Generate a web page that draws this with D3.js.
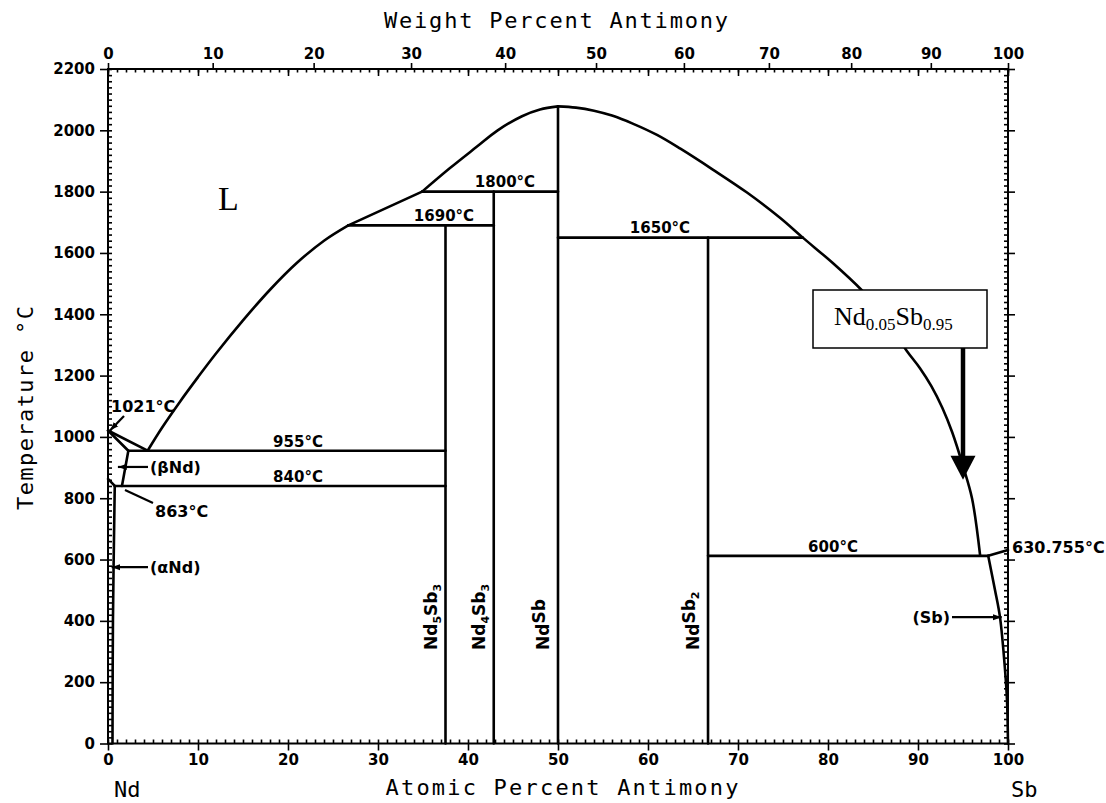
<!DOCTYPE html>
<html><head><meta charset="utf-8">
<script src="https://cdn.jsdelivr.net/npm/d3@7"></script>
<style>body{margin:0;background:#fff}svg{display:block}</style>
</head><body><svg id="c" width="1106" height="803"></svg>
<script>
// ---------------- data ----------------
const atomicTicks = [0,10,20,30,40,50,60,70,80,90,100];
const weightTicks = [0,10,20,30,40,50,60,70,80,90,100];
const tempTicks = [0,200,400,600,800,1000,1200,1400,1600,1800,2000,2200];

const liquidusNdSide = [[0,1021],[4.4,955]];
const liquidusLeft = [[4.4,955],[6,1030],[8,1115],[10,1195],[12,1272],[15,1380],[18,1480],[21,1568],[24,1640],[26.7,1690]];
const liquidusMid = [[26.7,1690],[34.9,1800]];
const liquidusPeak = [[34.9,1800],[38,1877],[41,1947],[43.3,2000],[46,2046],[48,2068],[50,2078]];
const liquidusRight = [[50,2078],[52,2074],[54,2064],[56,2048],[58.3,2022],[61,1985],[63.6,1940],[67.2,1872],[71,1797],[74.7,1714],[77.2,1650],[80.5,1568],[83.7,1480],[86.2,1395],[88.7,1283],[90.2,1225],[91.5,1165],[92.7,1095],[93.8,1015],[95,905],[96,800],[96.9,614]];
const solidusBetaNd = [[0,1021],[2.26,955]];
const solvusBetaNd = [[2.26,955],[1.55,840]];
const betaAlphaNd = [[0,863],[0.75,840]];
const solvusAlphaNd = [[0.75,840],[0.55,400],[0.5,0]];
const solvusSb = [[97.8,612],[98.56,500],[99.11,412],[99.67,240],[99.89,140],[100,0]];
const sbMelting = [[97.8,612],[100,630.755]];

const compoundNames = ["Nd5Sb3","Nd4Sb3","NdSb","NdSb2"];
const compoundX = [37.5, 42.86, 50, 66.67];
const compoundTop = [1690, 1800, 2078, 1650];

const isoT = [955, 840, 1690, 1800, 1650, 612];
const isoFrom = [2.26, 0.75, 26.7, 34.9, 50, 66.67];
const isoTo = [37.5, 37.5, 42.86, 50, 77.2, 97.8];
const isoLabels = ["955°C","840°C","1690°C","1800°C","1650°C","600°C"];

const highlightX = 95;      // Nd0.05Sb0.95
const highlightT = 860;

// ---------------- setup ----------------
const svg = d3.select("#c");
const x = d3.scaleLinear().domain([0,100]).range([108,1008]);
const y = d3.scaleLinear().domain([0,2200]).range([743.5,69]);
const MA = {Nd:144.24, Sb:121.76};
const wtToAt = w => { const a = w/MA.Sb, b = (100-w)/MA.Nd; return 100*a/(a+b); };
const fmt = d3.format("d");

const tickFont = "'DejaVu Sans', sans-serif";
const titleFont = "'DejaVu Sans Mono', monospace";

function styleAxis(g, size){
  g.selectAll("path.domain").remove();
  g.selectAll("line").attr("stroke","#000").attr("stroke-width",1.6);
  g.selectAll("text").attr("font-family",tickFont).attr("font-weight","bold")
    .attr("font-size",size||15).attr("fill","#000");
}

// left axis
svg.append("g").attr("transform","translate(108,0)")
  .call(d3.axisLeft(y).tickValues(tempTicks).tickFormat(fmt).tickSize(8).tickPadding(5).tickSizeOuter(0))
  .call(g=>styleAxis(g));
svg.append("g").attr("transform","translate(108,0)")
  .call(d3.axisRight(y).tickValues(d3.range(0,2201,20)).tickSize(4).tickFormat("").tickSizeOuter(0))
  .call(g=>styleAxis(g));
// right axis
svg.append("g").attr("transform","translate(1008,0)")
  .call(d3.axisRight(y).tickValues(tempTicks).tickSize(7).tickFormat("").tickSizeOuter(0))
  .call(g=>styleAxis(g));
svg.append("g").attr("transform","translate(1008,0)")
  .call(d3.axisLeft(y).tickValues(d3.range(0,2201,20)).tickSize(4).tickFormat("").tickSizeOuter(0))
  .call(g=>styleAxis(g));
// bottom axis
svg.append("g").attr("transform","translate(0,743.5)")
  .call(d3.axisBottom(x).tickValues(atomicTicks).tickFormat(fmt).tickSize(7).tickPadding(4).tickSizeOuter(0))
  .call(g=>styleAxis(g));
svg.append("g").attr("transform","translate(0,743.5)")
  .call(d3.axisTop(x).tickValues(d3.range(0,101,1)).tickSize(4).tickFormat("").tickSizeOuter(0))
  .call(g=>styleAxis(g));
// top axis (weight percent)
svg.append("g").attr("transform","translate(0,69)")
  .call(d3.axisTop(x).tickValues(weightTicks.map(wtToAt)).tickFormat((d,i)=>fmt(weightTicks[i])).tickSize(6).tickPadding(4).tickSizeOuter(0))
  .call(g=>styleAxis(g));
svg.append("g").attr("transform","translate(0,69)")
  .call(d3.axisBottom(x).tickValues(atomicTicks).tickSize(7).tickFormat("").tickSizeOuter(0))
  .call(g=>styleAxis(g));
svg.append("g").attr("transform","translate(0,69)")
  .call(d3.axisBottom(x).tickValues(d3.range(0,101,1)).tickSize(3.5).tickFormat("").tickSizeOuter(0))
  .call(g=>styleAxis(g));

// frame
svg.append("rect").attr("x",x(0)).attr("y",y(2200)).attr("width",x(100)-x(0)).attr("height",y(0)-y(2200))
  .attr("fill","none").attr("stroke","#000").attr("stroke-width",2);

// titles
svg.append("text").attr("x",556).attr("y",28).attr("text-anchor","middle")
  .attr("font-family",titleFont).attr("font-size",22).attr("textLength",344).attr("lengthAdjust","spacing")
  .text("Weight Percent Antimony");
svg.append("text").attr("x",562).attr("y",795).attr("text-anchor","middle")
  .attr("font-family",titleFont).attr("font-size",22).attr("textLength",353).attr("lengthAdjust","spacing")
  .text("Atomic Percent Antimony");
svg.append("text").attr("transform","translate(33,408) rotate(-90)").attr("text-anchor","middle")
  .attr("font-family",titleFont).attr("font-size",22).attr("textLength",204).attr("lengthAdjust","spacing")
  .text("Temperature °C");
svg.append("text").attr("x",114).attr("y",797).attr("font-family",titleFont).attr("font-size",22).text("Nd");
svg.append("text").attr("x",1011).attr("y",797).attr("font-family",titleFont).attr("font-size",22).text("Sb");

// ---------------- phase boundaries ----------------
const plot = svg.append("g").attr("fill","none").attr("stroke","#000").attr("stroke-width",2.6)
  .attr("stroke-linejoin","round").attr("stroke-linecap","round");
const lineStraight = d3.line().x(d=>x(d[0])).y(d=>y(d[1]));
const lineCurve = d3.line().x(d=>x(d[0])).y(d=>y(d[1])).curve(d3.curveCatmullRom.alpha(0.5));

[liquidusNdSide, solidusBetaNd, solvusBetaNd, betaAlphaNd, sbMelting, liquidusMid].forEach(d=>
  plot.append("path").attr("d", lineStraight(d)));
[liquidusLeft, liquidusPeak, liquidusRight, solvusAlphaNd, solvusSb].forEach(d=>plot.append("path").attr("d", lineCurve(d)));

// compound lines
compoundX.forEach((cx,i)=>{
  plot.append("line").attr("x1",x(cx)).attr("x2",x(cx)).attr("y1",y(0)).attr("y2",y(compoundTop[i]));
});
// isotherms
isoT.forEach((t,i)=>{
  plot.append("line").attr("x1",x(isoFrom[i])).attr("x2",x(isoTo[i])).attr("y1",y(t)).attr("y2",y(t));
});

// isotherm labels (layout positions in px, centred)
const isoLabelPos = [[298,-4],[298,-4],[444,-4],[505,-5],[660,-5],[833,-4]];
isoT.forEach((t,i)=>{
  svg.append("text").attr("x",isoLabelPos[i][0]).attr("y",y(t)+isoLabelPos[i][1])
    .attr("text-anchor","middle").attr("font-family",tickFont).attr("font-weight","bold").attr("font-size",15)
    .text(isoLabels[i]);
});

// compound labels (rotated)
compoundNames.forEach((name,i)=>{
  const t = svg.append("text").attr("transform",`translate(${x(compoundX[i])-9},650) rotate(-90)`)
    .attr("font-family",tickFont).attr("font-weight","bold").attr("font-size",17);
  const parts = name.match(/[A-Z][a-z]*|\d+/g);
  parts.forEach(p=>{
    if(/\d/.test(p)) t.append("tspan").attr("font-size",11).attr("dy",4).text(p);
    else { const s = t.append("tspan").text(p); if(t.selectAll("tspan").size()>1) s.attr("dy",-4); }
  });
});

// phase labels
svg.append("text").attr("x",218).attr("y",210).attr("font-family","'Liberation Serif', serif").attr("font-size",34).text("L");

function label(txt,px,py,anchor){
  svg.append("text").attr("x",px).attr("y",py).attr("text-anchor",anchor||"start")
    .attr("font-family",tickFont).attr("font-weight","bold").attr("font-size",16).text(txt);
}
label("1021°C",111,412);
label("(βNd)",150,y(902)+6);
label("863°C",155,517);
label("(αNd)",150,y(575)+6);
label("(Sb)",950,y(412)+6,"end");
label("630.755°C",1012,553);

// arrows
const defs = svg.append("defs");
defs.append("marker").attr("id","ah").attr("viewBox","0 0 10 10").attr("refX",10).attr("refY",5)
  .attr("markerWidth",4).attr("markerHeight",4).attr("orient","auto").attr("markerUnits","strokeWidth")
  .append("path").attr("d","M0,1.5 L10,5 L0,8.5 Z").attr("fill","#000");
function arrow(x1,y1,x2,y2,head){
  const l = svg.append("line").attr("x1",x1).attr("y1",y1).attr("x2",x2).attr("y2",y2)
    .attr("stroke","#000").attr("stroke-width",2.2);
  if(head!==false) l.attr("marker-end","url(#ah)");
}
arrow(124,416,x(0)+2,y(1021));
arrow(148,y(902),x(1.1),y(902));
arrow(153,503,125,490,false);
arrow(148,y(575),x(0.4),y(575));
arrow(952,y(412),x(99.3),y(412));

// Nd0.05Sb0.95 annotation
svg.append("rect").attr("x",813).attr("y",290).attr("width",174).attr("height",58)
  .attr("fill","#fff").attr("stroke","#000").attr("stroke-width",1.5);
const bt = svg.append("text").attr("x",834).attr("y",325).attr("font-family","'Liberation Serif', serif").attr("font-size",26);
bt.append("tspan").text("Nd");
bt.append("tspan").attr("font-size",17).attr("dy",5).text("0.05");
bt.append("tspan").attr("dy",-5).text("Sb");
bt.append("tspan").attr("font-size",17).attr("dy",5).text("0.95");
const ax = x(highlightX), ay = y(highlightT);
svg.append("line").attr("x1",ax).attr("x2",ax).attr("y1",348).attr("y2",ay-20).attr("stroke","#000").attr("stroke-width",4.5);
svg.append("path").attr("d",`M${ax-12.5},${ay-24} L${ax+12.5},${ay-24} L${ax},${ay} Z`).attr("fill","#000");
</script></body></html>
